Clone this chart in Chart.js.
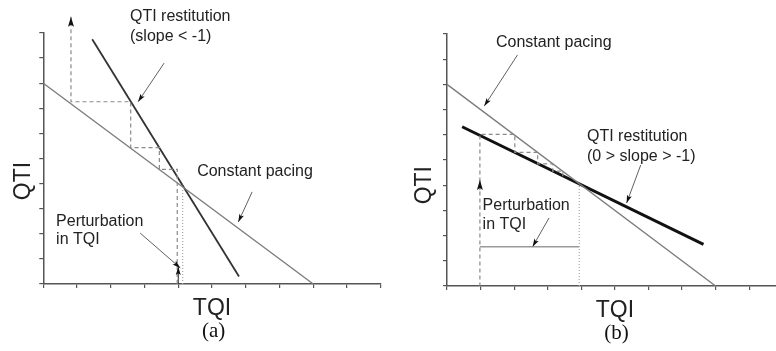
<!DOCTYPE html>
<html>
<head>
<meta charset="utf-8">
<script src="https://cdn.jsdelivr.net/npm/chart.js@4/dist/chart.umd.min.js"></script>
<style>
  html, body { margin: 0; padding: 0; background: #fff; }
  #wrap { position: relative; width: 776px; height: 351px; overflow: hidden; }
  canvas { position: absolute; top: 0; }
  #cA { left: 0; }
  #cB { left: 388px; }
</style>
</head>
<body>
<div id="wrap">
  <canvas id="cA" width="388" height="351"></canvas>
  <canvas id="cB" width="388" height="351"></canvas>
</div>
<script>
// Constant pacing line (same in both panels)
const paceX = [0, 8];
const paceY = [8, 0];

// Panel (a): steep restitution, diverging cobweb
const restAX = [1.45, 5.8];
const restAY = [9.75, 0.3];
const cobAX = [3.97, 3.97, 3.44, 3.44, 2.59, 2.59, 0.82, 0.82];
const cobAY = [0, 4.57, 4.57, 5.43, 5.43, 7.26, 7.26, 10.65];
const dotAX = [4.13, 4.13];
const dotAY = [0, 3.95];
const kickAX = [4.0, 4.0];
const kickAY = [0, 0.68];

// Panel (b): shallow restitution, converging cobweb
const restBX = [0.45, 7.64];
const restBY = [6.32, 1.65];
const cobBX = [3.45, 3.45, 3.15, 3.15, 2.7, 2.7, 2.02, 2.02, 0.98, 0.98];
const cobBY = [4.36, 4.56, 4.56, 4.85, 4.85, 5.3, 5.3, 6.02, 6.02, 0];
const dotBX = [3.94, 3.94];
const dotBY = [0, 4.0];
const spanBX = [0.98, 3.94];
const spanBY = [1.56, 1.56];
const upBX = [0.98, 0.98];
const upBY = [3.8, 4.21];

// Label pointer arrows (tail -> head)
const ptrA1X = [3.58, 2.81], ptrA1Y = [8.80, 7.26];
const ptrA2X = [6.19, 5.78], ptrA2Y = [3.67, 2.47];
const ptrA3X = [2.87, 4.06], ptrA3Y = [2.03, 0.64];
const ptrB1X = [2.10, 1.11], ptrB1Y = [9.17, 7.14];
const ptrB2X = [5.77, 5.35], ptrB2Y = [4.80, 3.29];
const ptrB3X = [3.04, 2.55], ptrB3Y = [2.70, 1.56];

// Texts
const labelsA = ['QTI restitution', '(slope < -1)', 'Constant pacing', 'Perturbation', 'in TQI'];
const labelsB = ['Constant pacing', 'QTI restitution', '(0 > slope > -1)', 'Perturbation', 'in TQI'];
const xTitle = 'TQI';
const yTitle = 'QTI';
const panelTags = ['(a)', '(b)'];

const pts = (xs, ys) => xs.map((x, i) => ({ x, y: ys[i] }));

function seg(xs, ys, color, width, extra) {
  return Object.assign({
    data: pts(xs, ys),
    showLine: true,
    borderColor: color,
    borderWidth: width,
    pointRadius: 0,
    fill: false,
    tension: 0,
    clip: false
  }, extra || {});
}

// Arrowheads on datasets flagged with arrowHead
const arrowPlugin = {
  id: 'arrowHeads',
  afterDatasetsDraw(chart) {
    const ctx = chart.ctx;
    chart.data.datasets.forEach((ds, i) => {
      if (!ds.arrowHead) return;
      const meta = chart.getDatasetMeta(i);
      const n = meta.data.length;
      const p1 = meta.data[n - 2], p2 = meta.data[n - 1];
      const ang = Math.atan2(p2.y - p1.y, p2.x - p1.x);
      const L = ds.arrowHead.len, W = ds.arrowHead.wid;
      ctx.save();
      ctx.translate(p2.x, p2.y);
      ctx.rotate(ang);
      ctx.beginPath();
      ctx.moveTo(0, 0);
      ctx.lineTo(-L, W / 2);
      ctx.lineTo(-L * 0.8, 0);
      ctx.lineTo(-L, -W / 2);
      ctx.closePath();
      ctx.fillStyle = ds.arrowHead.color;
      ctx.fill();
      ctx.restore();
    });
  }
};

// Text annotations and axis titles
function textPlugin(items, tag, qtiAt, qtiGap) {
  return {
    id: 'texts',
    afterDraw(chart) {
      const ctx = chart.ctx, sx = chart.scales.x, sy = chart.scales.y, ca = chart.chartArea;
      ctx.save();
      ctx.fillStyle = '#222';
      ctx.font = '16px "Liberation Sans", Arial, sans-serif';
      ctx.textBaseline = 'middle';
      ctx.textAlign = 'left';
      items.forEach(it => ctx.fillText(it.t, sx.getPixelForValue(it.x), sy.getPixelForValue(it.y)));
      ctx.font = '23px "Liberation Sans", Arial, sans-serif';
      ctx.textAlign = 'center';
      ctx.textBaseline = 'alphabetic';
      ctx.fillText(xTitle, sx.getPixelForValue(5), ca.bottom + 31);
      ctx.save();
      ctx.translate(ca.left - qtiGap, sy.getPixelForValue(qtiAt));
      ctx.rotate(-Math.PI / 2);
      ctx.fillText(yTitle, 0, 0);
      ctx.restore();
      ctx.font = '21px "Liberation Serif", "Times New Roman", serif';
      ctx.fillStyle = '#111';
      ctx.fillText(tag, sx.getPixelForValue(5.05), ca.bottom + 53);
      ctx.restore();
    }
  };
}

const PACE = '#7d7d7d', DASH = '#8a8a8a', PTR = '#606060', HEAD = '#111';

function makeChart(id, datasets, xMax, pad, yWidth, xHeight, plugin) {
  return new Chart(document.getElementById(id), {
    type: 'scatter',
    data: { datasets },
    options: {
      responsive: false,
      animation: false,
      events: [],
      layout: { padding: pad },
      plugins: { legend: { display: false }, tooltip: { enabled: false } },
      scales: {
        x: {
          type: 'linear', min: 0, max: xMax,
          ticks: { stepSize: 1, includeBounds: false, callback: () => '', autoSkip: false },
          grid: { drawOnChartArea: false, drawTicks: true, tickLength: 4, color: '#555', lineWidth: 1.2 },
          border: { color: '#555', width: 1.5 },
          afterFit(s) { s.height = xHeight; }
        },
        y: {
          type: 'linear', min: 0, max: 10,
          ticks: { stepSize: 1, includeBounds: false, callback: () => '', autoSkip: false },
          grid: { drawOnChartArea: false, drawTicks: true, tickLength: 4, color: '#555', lineWidth: 1.2 },
          border: { color: '#555', width: 1.5 },
          afterFit(s) { s.width = yWidth; }
        }
      }
    },
    plugins: [arrowPlugin, plugin]
  });
}

// Panel (a)
makeChart('cA', [
  seg(cobAX, cobAY, DASH, 1.2, { borderDash: [4, 3], arrowHead: { len: 10, wid: 6, color: HEAD } }),
  seg(dotAX, dotAY, '#a8a8a8', 1.2, { borderDash: [1, 2] }),
  seg(paceX, paceY, PACE, 1.4),
  seg(restAX, restAY, '#333', 1.8),
  seg(kickAX, kickAY, '#222', 1, { arrowHead: { len: 8, wid: 5, color: HEAD } }),
  seg(ptrA1X, ptrA1Y, PTR, 1, { arrowHead: { len: 8, wid: 5, color: HEAD } }),
  seg(ptrA2X, ptrA2Y, PTR, 1, { arrowHead: { len: 8, wid: 5, color: HEAD } }),
  seg(ptrA3X, ptrA3Y, PTR, 1, { arrowHead: { len: 8, wid: 5, color: HEAD } })
], 10, { top: 33, right: 7.3, left: 0, bottom: 0 }, 43.3, 67,
  textPlugin([
    { t: labelsA[0], x: 2.57, y: 10.64 },
    { t: labelsA[1], x: 2.57, y: 9.84 },
    { t: labelsA[2], x: 4.56, y: 4.46 },
    { t: labelsA[3], x: 0.38, y: 2.47 },
    { t: labelsA[4], x: 0.38, y: 1.75 }
  ], panelTags[0], 4.1, 13));

// Panel (b)
makeChart('cB', [
  seg(cobBX, cobBY, DASH, 1.2, { borderDash: [4, 3] }),
  seg(dotBX, dotBY, '#a8a8a8', 1.2, { borderDash: [1, 2] }),
  seg(spanBX, spanBY, '#9a9a9a', 1.5),
  seg(paceX, paceY, PACE, 1.4),
  seg(restBX, restBY, '#111', 3),
  seg(upBX, upBY, DASH, 1.2, { arrowHead: { len: 10, wid: 6, color: HEAD } }),
  seg(ptrB1X, ptrB1Y, PTR, 1, { arrowHead: { len: 8, wid: 5, color: HEAD } }),
  seg(ptrB2X, ptrB2Y, PTR, 1, { arrowHead: { len: 8, wid: 5, color: HEAD } }),
  seg(ptrB3X, ptrB3Y, PTR, 1, { arrowHead: { len: 8, wid: 5, color: HEAD } })
], 9.8, { top: 34, right: 0, left: 0, bottom: 0 }, 59, 65,
  textPlugin([
    { t: labelsB[0], x: 1.46, y: 9.64 },
    { t: labelsB[1], x: 4.17, y: 5.91 },
    { t: labelsB[2], x: 4.17, y: 5.12 },
    { t: labelsB[3], x: 1.06, y: 3.21 },
    { t: labelsB[4], x: 1.06, y: 2.42 }
  ], panelTags[1], 4.0, 16));
</script>
</body>
</html>
